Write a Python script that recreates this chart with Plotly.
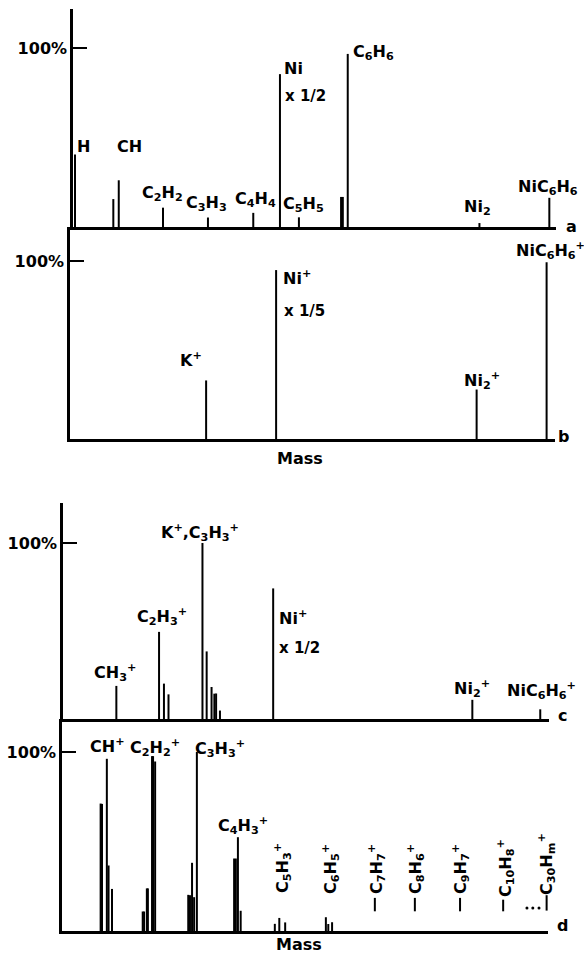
import plotly.graph_objects as go

# ---------------- data ----------------
# panel a: neutral spectrum (mass, % intensity)
a_mass = [0.94, 11.85, 13.4, 26.0, 38.8, 51.7, 59.3, 64.7, 76.7, 77.2, 78.6, 116.1, 136.0]
a_int = [40.5, 15.6, 26.1, 10.8, 5.3, 7.9, 85.4, 5.4, 16.8, 16.8, 96.7, 2.2, 16.3]

# panel b
b_mass = [38.7, 58.7, 116.0, 136.0]
b_int = [32.9, 94.9, 27.8, 99.3]

# panel c
c_mass = [15.1, 27.3, 28.7, 30.0, 39.7, 40.9, 42.3, 43.1, 43.6, 44.7, 59.9, 116.8, 136.2]
c_int = [18.8, 49.5, 20.1, 14.0, 100.0, 38.4, 18.2, 14.4, 14.5, 4.8, 74.2, 10.9, 5.5]

# panel d
d_mass = [11.2, 11.6, 13.0, 13.5, 14.5, 23.4, 23.8, 24.6, 24.9, 26.1, 26.4, 27.0,
          36.6, 37.1, 37.7, 38.3, 39.1, 49.9, 50.4, 51.0, 51.8, 61.7, 63.0, 64.7,
          76.5, 77.2, 78.3]
d_int = [71.2, 71.0, 96.2, 36.6, 23.5, 10.9, 10.9, 23.8, 23.8, 97.7, 97.7, 94.7,
         20.2, 20.0, 38.1, 18.9, 100.0, 40.5, 40.5, 52.4, 11.3, 4.0, 7.3, 4.8,
         7.7, 3.9, 4.9]
# floating position markers for heavier clusters in panel d
d_mark_mass = [90.7, 102.3, 115.4, 127.9, 140.5]
d_mark_lo = [11.0, 11.0, 11.0, 11.0, 11.4]
d_mark_hi = [18.5, 18.5, 18.5, 17.5, 20.0]
d_dot_mass = [134.8, 136.5, 138.3]
d_dot_int = [12.8, 12.8, 12.8]

W, H = 584, 956
FONT = "DejaVu Sans"


def X(px):
    return px / W


def Y(py):
    return 1 - py / H


def sticks(m, lo, hi):
    xs, ys = [], []
    for mi, l, h in zip(m, lo, hi):
        xs += [mi, mi, None]
        ys += [l, h, None]
    return xs, ys


fig = go.Figure()

panels = [
    (a_mass, a_int, "x", "y"),
    (b_mass, b_int, "x2", "y2"),
    (c_mass, c_int, "x3", "y3"),
    (d_mass, d_int, "x4", "y4"),
]
for m, it, xa, ya in panels:
    xs, ys = sticks(m, [0] * len(m), it)
    fig.add_trace(go.Scatter(x=xs, y=ys, mode="lines", xaxis=xa, yaxis=ya,
                             line=dict(color="black", width=2), hoverinfo="skip",
                             showlegend=False))

xs, ys = sticks(d_mark_mass, d_mark_lo, d_mark_hi)
fig.add_trace(go.Scatter(x=xs, y=ys, mode="lines", xaxis="x4", yaxis="y4",
                         line=dict(color="black", width=2), showlegend=False,
                         hoverinfo="skip"))
fig.add_trace(go.Scatter(x=d_dot_mass, y=d_dot_int, mode="markers", xaxis="x4", yaxis="y4",
                         marker=dict(color="black", size=3), showlegend=False,
                         hoverinfo="skip"))

# panel geometry in pixels: (left, right, top, base, p100, mass_lo, mass_hi)
geo = {
    "1": (73, 556, 9, 227, 48, 0.37, 137.9),
    "2": (70, 555, 227, 439, 261, -0.2, 138.4),
    "3": (63, 549, 503, 719, 543, -0.14, 138.7),
    "4": (62, 548, 719, 931, 752, 0.0, 140.9),
}

layout = dict(
    width=W, height=H, autosize=False,
    margin=dict(l=0, r=0, t=0, b=0),
    paper_bgcolor="white", plot_bgcolor="white",
    font=dict(family=FONT, size=16, color="black"),
    showlegend=False,
)
for k, (l, r, t, b, p100, m0, m1) in geo.items():
    sfx = "" if k == "1" else k
    top_pct = (b - t) / (b - p100) * 100
    layout["xaxis" + sfx] = dict(
        domain=[X(l), X(r)], range=[m0, m1], anchor="y" + sfx,
        showgrid=False, zeroline=False, showline=True, linecolor="black",
        linewidth=2.5, ticks="", showticklabels=False, fixedrange=True,
        automargin=False,
    )
    layout["yaxis" + sfx] = dict(
        domain=[Y(b), Y(t)], range=[0, top_pct], anchor="x" + sfx,
        showgrid=False, zeroline=False, showline=True, linecolor="black",
        linewidth=2.5, tickvals=[100], ticktext=["100%"], ticks="inside",
        ticklen=14, tickwidth=2, tickcolor="black",
        tickfont=dict(family=FONT, size=16, color="black", weight="bold"),
        automargin=False, fixedrange=True,
    )
fig.update_layout(**layout)


def lab(px, py, text, anchor="center", angle=0, size=16):
    fig.add_annotation(x=X(px), y=Y(py), xref="paper", yref="paper", text=text,
                       showarrow=False, xanchor=anchor, yanchor="middle",
                       textangle=angle,
                       font=dict(family=FONT, size=size, color="black", weight="bold"))


# panel a labels
lab(83, 146, "H")
lab(129, 146, "CH")
lab(162, 193, "C<sub>2</sub>H<sub>2</sub>")
lab(206, 204, "C<sub>3</sub>H<sub>3</sub>")
lab(255, 199, "C<sub>4</sub>H<sub>4</sub>")
lab(282, 68, "Ni", "left")
lab(283, 96, "x 1/2", "left", size=15)
lab(281, 205, "C<sub>5</sub>H<sub>5</sub>", "left")
lab(351, 53, "C<sub>6</sub>H<sub>6</sub>", "left")
lab(462, 207, "Ni<sub>2</sub>", "left")
lab(516, 187, "NiC<sub>6</sub>H<sub>6</sub>", "left")
lab(571, 226, "a")

# panel b labels
lab(191, 359, "K<sup>+</sup>")
lab(281, 277, "Ni<sup>+</sup>", "left")
lab(282, 311, "x 1/5", "left", size=15)
lab(462, 380, "Ni<sub>2</sub><sup>+</sup>", "left")
lab(514, 251, "NiC<sub>6</sub>H<sub>6</sub><sup>+</sup>", "left")
lab(563, 436, "b")
lab(300, 458, "Mass")

# panel c labels
lab(115, 672, "CH<sub>3</sub><sup>+</sup>")
lab(162, 616, "C<sub>2</sub>H<sub>3</sub><sup>+</sup>")
lab(200, 532, "K<sup>+</sup>,C<sub>3</sub>H<sub>3</sub><sup>+</sup>")
lab(277, 617, "Ni<sup>+</sup>", "left")
lab(277, 648, "x 1/2", "left", size=15)
lab(452, 688, "Ni<sub>2</sub><sup>+</sup>", "left")
lab(505, 690, "NiC<sub>6</sub>H<sub>6</sub><sup>+</sup>", "left")
lab(562, 715, "c")

# panel d labels
lab(107, 745, "CH<sup>+</sup>")
lab(155, 747, "C<sub>2</sub>H<sub>2</sub><sup>+</sup>")
lab(220, 748, "C<sub>3</sub>H<sub>3</sub><sup>+</sup>")
lab(243, 825, "C<sub>4</sub>H<sub>3</sub><sup>+</sup>")
lab(282, 868, "C<sub>5</sub>H<sub>3</sub><sup>+</sup>", angle=-90)
lab(330, 869, "C<sub>6</sub>H<sub>5</sub><sup>+</sup>", angle=-90)
lab(376, 869, "C<sub>7</sub>H<sub>7</sub><sup>+</sup>", angle=-90)
lab(415, 869, "C<sub>8</sub>H<sub>6</sub><sup>+</sup>", angle=-90)
lab(460, 869, "C<sub>9</sub>H<sub>7</sub><sup>+</sup>", angle=-90)
lab(505, 868, "C<sub>10</sub>H<sub>8</sub><sup>+</sup>", angle=-90)
lab(546, 864, "C<sub>30</sub>H<sub>m</sub><sup>+</sup>", angle=-90)
lab(562, 925, "d")
lab(299, 944, "Mass")

fig.write_html(
    "out.html",
    config={"displayModeBar": False},
    post_script="document.body.style.margin='0';document.body.style.padding='0';"
                "document.body.style.overflow='hidden';",
)
